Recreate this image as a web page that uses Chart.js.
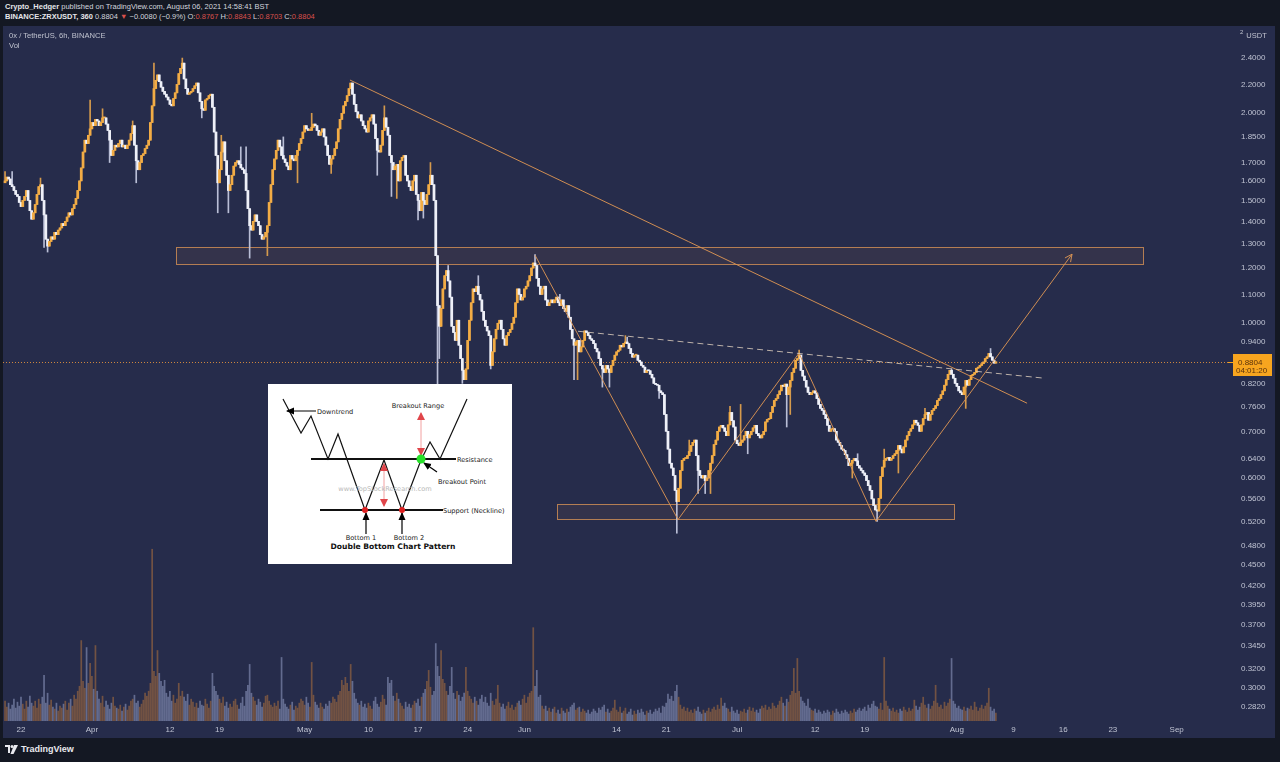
<!DOCTYPE html>
<html><head><meta charset="utf-8">
<script src="https://cdn.jsdelivr.net/npm/chart.js@4.4.0/dist/chart.umd.min.js"></script>
<style>
html,body{margin:0;padding:0;width:1280px;height:762px;background:#141823;overflow:hidden;font-family:"Liberation Sans",Arial,sans-serif;}
#hdr{position:absolute;left:5px;top:2px;color:#d3d6de;font-size:7.5px;line-height:10px;white-space:nowrap;}
#hdr b{font-weight:bold;color:#e4e6ea;}
#hdr .r{color:#d9504c;}
#pane{position:absolute;left:3px;top:26px;width:1272px;height:712px;background:#262c4b;}
#c{position:absolute;left:0;top:0;}
#leg{position:absolute;left:9px;top:31px;color:#c0c3cf;font-size:7.6px;line-height:10px;}
#unit{position:absolute;left:1240px;top:29px;color:#c0c3cf;font-size:7.5px;}
#unit sup{font-size:6px;margin-right:3px;}
#inset{position:absolute;left:268px;top:384px;width:244px;height:180px;}
#foot{position:absolute;left:5px;top:744px;color:#e8e9ee;font-size:9px;font-weight:bold;display:flex;align-items:center;gap:3px;}
</style></head>
<body>
<div id="hdr">
<div><b>Crypto_Hedger</b> published on TradingView.com, August 06, 2021 14:58:41 BST</div>
<div><b>BINANCE:ZRXUSDT, 360</b> 0.8804 <span class="r">▼</span> −0.0080 (−0.9%) O:<span class="r">0.8767</span> H:<span class="r">0.8843</span> L:<span class="r">0.8703</span> C:<span class="r">0.8804</span></div>
</div>
<div id="pane"><canvas id="c" width="1272" height="712" style="width:1272px;height:712px"></canvas></div>
<div id="leg">0x / TetherUS, 6h, BINANCE<br>Vol</div>
<div id="unit"><sup>2</sup>USDT</div>
<svg id="inset" width="244" height="180" viewBox="0 0 244 180">
<defs>
<marker id="ab" markerWidth="8" markerHeight="8" refX="7" refY="4" orient="auto" markerUnits="userSpaceOnUse"><path d="M0,0.5 L8,4 L0,7.5 z" fill="#000"/></marker>
<marker id="ar" markerWidth="8" markerHeight="10" refX="7" refY="4" orient="auto-start-reverse" markerUnits="userSpaceOnUse"><path d="M0,0 L8,4 L0,8 z" fill="#e0454a"/></marker>
</defs>
<rect x="0" y="0" width="244" height="180" fill="#ffffff"/>
<polyline points="15,15 33,49 43,32 60,75 70,50 97,126 116,76 134,126 153,76 162,58 172,75 199,15" fill="none" stroke="#111" stroke-width="1.2"/>
<line x1="43" y1="75" x2="188" y2="75" stroke="#111" stroke-width="1.8"/>
<line x1="52" y1="126" x2="175" y2="126" stroke="#111" stroke-width="1.8"/>
<line x1="48" y1="27" x2="19" y2="27" stroke="#000" stroke-width="1" marker-end="url(#ab)"/>
<line x1="153" y1="29" x2="153" y2="71" stroke="#f2a0a0" stroke-width="1" marker-start="url(#ar)" marker-end="url(#ar)"/>
<line x1="116" y1="80" x2="116" y2="122" stroke="#f2a0a0" stroke-width="1" marker-start="url(#ar)" marker-end="url(#ar)"/>
<line x1="169" y1="88" x2="156" y2="79" stroke="#000" stroke-width="1.2" marker-end="url(#ab)"/>
<line x1="98" y1="150" x2="98" y2="129" stroke="#000" stroke-width="1.2" marker-end="url(#ab)"/>
<line x1="134" y1="150" x2="134" y2="129" stroke="#000" stroke-width="1.2" marker-end="url(#ab)"/>
<circle cx="153" cy="75" r="4.5" fill="#27e02a"/>
<circle cx="97" cy="126" r="3" fill="#dd2020"/>
<circle cx="134" cy="126" r="3" fill="#dd2020"/>
<g font-family="DejaVu Sans, Verdana, sans-serif" font-size="6.6" fill="#222">
<text x="49" y="29.5">Downtrend</text>
<text x="150" y="23.5" text-anchor="middle">Breakout Range</text>
<text x="189" y="77.5">Resistance</text>
<text x="170" y="99.5">Breakout Point</text>
<text x="117" y="106.5" text-anchor="middle" fill="#b8b8b8">www.TopStockResearch.com</text>
<text x="175" y="128.5">Support (Neckline)</text>
<text x="93" y="155.5" text-anchor="middle">Bottom 1</text>
<text x="141" y="155.5" text-anchor="middle">Bottom 2</text>
<text x="125" y="165" text-anchor="middle" font-weight="bold" font-size="7.6" fill="#111">Double Bottom Chart Pattern</text>
</g>
</svg>
<div id="foot"><svg width="13" height="9" viewBox="0 0 13 9"><path d="M0,0 H5 V8 H3 V2 H0 Z" fill="#e8e9ee"/><circle cx="7" cy="1.5" r="1.5" fill="#e8e9ee"/><path d="M9,0 H13 L8.5,9 H5.5 Z" fill="#e8e9ee"/></svg><span>TradingView</span></div>
<script>
// ---- time axis: days since 22 Mar 2021, 6h candles ----
const startDay = -2.25;
const stepDays = 0.25;
const xMinDay = -2.5388;
const xMaxDay = 170.24;
const xTickDays = [0,10,21,28,40,49,56,63,71,84,91,101,112,119,132,140,147,154,163];
const xTickLabels = ['22','Apr','12','19','May','10','17','24','Jun','14','21','Jul','12','19','Aug','9','16','23','Sep'];

// ---- price axis (USDT, log) ----
const priceMin = 0.269;
const priceMax = 2.668;
const priceTicks = [2.4,2.2,2.0,1.85,1.7,1.6,1.5,1.4,1.3,1.2,1.1,1.0,0.94,0.82,0.76,0.70,0.64,0.60,0.56,0.52,0.48,0.45,0.42,0.395,0.37,0.345,0.32,0.30,0.282];

// ---- 6h closes ----
const firstOpen = 1.59;
const closes = [
1.60,1.62,1.61,1.58, 1.57,1.55,1.53,1.52, 1.49,1.47,1.50,1.52, 1.55,1.50,1.45,1.41, 1.44,1.48,1.53,1.57,
1.58,1.50,1.43,1.32, 1.29,1.31,1.33,1.32, 1.35,1.34,1.36,1.37, 1.39,1.38,1.40,1.42, 1.44,1.43,1.46,1.48,
1.51,1.55,1.60,1.67, 1.76,1.83,1.81,1.86, 1.90,1.94,1.92,1.96, 1.95,1.92,1.94,1.97, 1.97,1.93,1.89,1.83,
1.74,1.77,1.80,1.79, 1.81,1.83,1.79,1.80, 1.78,1.80,1.83,1.87, 1.92,1.80,1.71,1.66, 1.70,1.74,1.75,1.78,
1.80,1.83,1.94,2.05, 2.17,2.23,2.27,2.22, 2.18,2.15,2.13,2.11, 2.09,2.06,2.05,2.10, 2.14,2.20,2.28,2.32,
2.36,2.24,2.17,2.13, 2.14,2.15,2.17,2.19, 2.21,2.14,2.08,2.03, 2.02,2.09,2.10,2.12, 2.13,2.04,1.88,1.74,
1.59,1.66,1.76,1.82, 1.71,1.63,1.55,1.58, 1.63,1.68,1.70,1.71, 1.69,1.67,1.66,1.64, 1.55,1.46,1.38,1.36,
1.40,1.43,1.40,1.38, 1.34,1.32,1.33,1.35, 1.38,1.49,1.58,1.66, 1.72,1.77,1.83,1.79, 1.74,1.72,1.70,1.68,
1.66,1.74,1.72,1.71, 1.74,1.77,1.81,1.84, 1.88,1.92,1.90,1.89, 1.89,1.91,1.93,1.92, 1.89,1.86,1.88,1.90,
1.85,1.80,1.74,1.69, 1.72,1.74,1.78,1.82, 1.90,1.96,2.00,2.05, 2.08,2.12,2.17,2.21, 2.13,2.06,2.01,1.97,
1.99,1.95,1.92,1.90, 1.88,1.95,1.97,1.99, 1.93,1.84,1.77,1.76, 1.80,1.89,1.97,1.91, 1.86,1.74,1.70,1.66,
1.68,1.69,1.60,1.71, 1.73,1.74,1.63,1.60, 1.57,1.55,1.60,1.63, 1.53,1.50,1.45,1.54, 1.50,1.48,1.53,1.58,
1.63,1.58,1.50,1.25, 1.06,0.99,1.05,1.12, 1.17,1.19,1.15,1.09, 0.99,0.97,0.945,1.01, 0.93,0.89,0.856,0.83,
0.86,0.945,1.01,1.07, 1.12,1.11,1.13,1.10, 1.08,1.04,1.01,0.99, 0.975,0.96,0.87,0.91, 0.95,0.98,1.00,1.01,
0.98,0.95,0.93,0.96, 0.97,0.98,1.00,1.02, 1.07,1.12,1.10,1.08, 1.09,1.12,1.13,1.15, 1.17,1.20,1.22,1.21,
1.16,1.13,1.10,1.12, 1.13,1.08,1.06,1.07, 1.08,1.07,1.08,1.09, 1.07,1.06,1.08,1.05, 1.04,1.06,1.02,0.98,
0.95,0.93,0.94,0.945, 0.91,0.925,0.945,0.975, 0.97,0.96,0.95,0.945, 0.935,0.92,0.91,0.89, 0.87,0.86,0.85,0.87,
0.86,0.85,0.87,0.885, 0.90,0.91,0.915,0.93, 0.925,0.936,0.94,0.935, 0.92,0.905,0.894,0.90, 0.90,0.885,0.88,0.87,
0.865,0.85,0.856,0.855, 0.845,0.835,0.82,0.817, 0.815,0.80,0.795,0.79, 0.74,0.70,0.66,0.63, 0.62,0.605,0.576,0.555,
0.58,0.615,0.636,0.64, 0.64,0.646,0.655,0.668, 0.675,0.68,0.646,0.615, 0.605,0.60,0.605,0.595, 0.60,0.615,0.63,0.646,
0.67,0.68,0.70,0.71, 0.714,0.708,0.70,0.69, 0.715,0.745,0.725,0.71, 0.68,0.672,0.668,0.675, 0.68,0.69,0.70,0.685,
0.692,0.70,0.708,0.714, 0.695,0.69,0.685,0.692, 0.70,0.722,0.728,0.73, 0.745,0.76,0.775,0.78, 0.79,0.80,0.815,0.812,
0.818,0.79,0.81,0.828, 0.85,0.862,0.885,0.89, 0.90,0.856,0.84,0.828, 0.81,0.796,0.79,0.795, 0.80,0.794,0.78,0.765,
0.755,0.75,0.74,0.73, 0.714,0.70,0.705,0.706, 0.70,0.68,0.675,0.668, 0.66,0.657,0.648,0.64, 0.625,0.63,0.636,0.64,
0.635,0.625,0.62,0.615, 0.61,0.605,0.595,0.585, 0.576,0.56,0.548,0.54, 0.538,0.561,0.603,0.622, 0.636,0.64,0.642,0.636,
0.64,0.646,0.65,0.657, 0.668,0.66,0.652,0.665, 0.68,0.69,0.70,0.706, 0.715,0.726,0.72,0.714, 0.70,0.715,0.73,0.74,
0.745,0.726,0.74,0.75, 0.755,0.762,0.775,0.78, 0.79,0.80,0.815,0.83, 0.845,0.856,0.845,0.834, 0.82,0.812,0.80,0.795,
0.79,0.81,0.828,0.815, 0.83,0.842,0.845,0.85, 0.862,0.865,0.87,0.875, 0.88,0.89,0.895,0.905, 0.895,0.885,0.8767,0.8804
];
// visible wicks [candle index, price]
const wickHighs = [[0,1.65],[4,1.65],[20,1.615],[48,2.09],[55,2.03],[72,1.95],[84,2.36],[100,2.40],[122,1.86],[133,1.79],[136,1.79],[157,1.85],[173,2.00],[214,2.05],[240,1.70],
  [250,1.21],[267,1.17],[299,1.255],[313,1.10],[350,0.96],[351,0.955],[386,0.68],[409,0.76],[415,0.765],[448,0.915],[481,0.65],[496,0.66],[519,0.755],[528,0.78],[534,0.86],[556,0.92]];
const wickLows = [[22,1.285],[24,1.265],[59,1.70],[74,1.59],[111,1.97],[120,1.44],[126,1.44],[138,1.24],[148,1.25],[165,1.59],[184,1.64],[210,1.63],[218,1.52],[221,1.51],[233,1.406],[236,1.415],
  [244,0.79],[245,0.89],[258,0.82],[274,0.86],[321,0.83],[323,0.83],[337,0.81],[341,0.81],[369,0.78],[379,0.50],[391,0.57],[395,0.57],[398,0.57],[419,0.65],[441,0.71],[443,0.74],[478,0.60],[492,0.52],[504,0.61],[542,0.755]];

// ---- volume (x10K ZRX) ----
const volumes = [
20,14,18,12, 16,22,13,19, 15,24,17,12, 20,14,25,18, 15,20,13,22,
17,24,46,18, 28,16,21,14, 12,18,10,15, 13,17,20,11, 18,22,15,26,
22,30,35,81, 40,33,74,38, 58,45,32,76, 30,22,18,25, 14,20,16,12,
18,24,15,13, 12,16,10,14, 17,11,15,20, 22,26,18,20, 14,17,21,28,
25,30,38,173, 50,45,71,48, 40,35,41,28, 24,30,20,26, 18,22,38,25,
30,24,20,27, 16,22,19,14, 18,13,20,16, 15,22,17,13, 20,48,35,30,
26,22,18,24, 15,19,13,17, 14,20,22,16, 12,18,24,15, 30,36,57,28,
24,20,16,22, 19,14,18,25, 26,20,16,14, 18,15,20,12, 64,22,17,14,
12,16,19,11, 15,13,18,22, 20,16,24,18, 14,59,26,19, 16,13,18,14,
12,17,15,20, 18,24,22,19, 26,30,41,36, 44,38,30,57, 40,28,22,18,
16,20,14,17, 13,18,15,12, 20,24,17,14, 19,26,22,16, 44,38,41,25,
20,28,22,18, 15,12,19,14, 17,13,16,20, 18,22,15,24, 28,32,40,51,
34,26,30,78, 55,45,71,42, 38,30,26,35, 54,28,22,30, 26,20,24,28,
54,30,25,22, 18,24,20,16, 22,26,19,24, 18,15,28,20, 16,22,36,18,
14,17,12,15, 19,13,16,11, 14,18,20,16, 22,26,18,24, 28,30,94,35,
51,24,26,15, 12,15,10,13, 9,12,14,8, 11,7,13,10, 8,12,9,14,
16,18,11,13, 14,9,12,10, 8,11,7,9, 12,10,8,13, 11,14,16,9,
12,8,10,13, 21,11,9,14, 8,10,13,7, 9,12,6,10, 7,11,8,12,
9,6,10,8, 11,7,9,12, 10,13,8,15, 14,18,27,22, 25,20,30,36,
24,16,12,14, 10,13,9,11, 8,12,10,14, 9,7,11,8, 10,13,9,12,
14,11,16,12, 23,15,18,13, 12,9,14,10, 8,11,7,10, 9,12,8,11,
14,10,13,9, 11,8,12,15, 13,16,11,14, 12,18,15,13, 16,20,24,18,
15,22,19,26, 30,53,28,63, 30,24,20,18, 15,22,13,11, 10,12,8,11,
9,7,10,8, 11,9,6,10, 8,12,9,7, 10,8,11,9, 7,10,8,12,
9,11,13,10, 12,14,10,16, 13,17,20,15, 14,12,18,11, 64,20,15,12,
10,13,9,11, 8,12,10,14, 11,9,13,10, 12,21,15,11, 14,18,24,16,
13,17,12,15, 20,36,18,14, 16,12,19,15, 18,22,63,20, 17,13,15,12,
11,14,10,13, 12,15,11,19, 14,10,13,16, 12,15,18,33, 14,10,12,8
];
const volumeAxisMax = 700;

// ---- drawings (day, price) ----
const zones = [
  {from:21.86, to:158.25, lo:1.215, hi:1.285},
  {from:75.6, to:131.6, lo:0.523, hi:0.550}
];
const trendLine = [[46.4,2.232],[141.9,0.768]];
const dashedLine = [[78.56,0.974],[144.4,0.834]];
const patternPath = [[72.5,1.252],[92.67,0.523],[109.73,0.906],[120.59,0.520],[148.24,1.256]];
const countdownText = '04:01:20';

// ---- derived candle parts ----
const n = closes.length;
const xs = closes.map((c,i)=> startDay + i*stepDays);
const opens = closes.map((c,i)=> i===0 ? firstOpen : closes[i-1]);
const highs = closes.map((c,i)=> Math.max(c, opens[i]));
const lows = closes.map((c,i)=> Math.min(c, opens[i]));
wickHighs.forEach(([i,v])=>{ highs[i] = Math.max(highs[i], v); });
wickLows.forEach(([i,v])=>{ lows[i] = Math.min(lows[i], v); });
const isUp = closes.map((c,i)=> c >= opens[i]);

const UP_BODY = '#f2ac45', DN_BODY = '#eef0f8';
const UP_WICK = '#d59a4c', DN_WICK = '#b9bed6';
const UP_VOL = 'rgba(165,108,62,0.6)', DN_VOL = 'rgba(150,160,200,0.55)';
const LINE = 'rgba(221,150,84,0.92)';

const drawPlugin = {
  id: 'drawings',
  beforeDatasetsDraw(chart){
    const {ctx, chartArea:a, scales:{x, y}} = chart;
    ctx.save();
    ctx.beginPath(); ctx.rect(a.left, a.top, a.right-a.left, a.bottom-a.top); ctx.clip();
    zones.forEach(z=>{
      const x0 = x.getPixelForValue(z.from), x1 = x.getPixelForValue(z.to);
      const y0 = y.getPixelForValue(z.hi), y1 = y.getPixelForValue(z.lo);
      ctx.fillStyle = 'rgba(130,92,80,0.16)';
      ctx.fillRect(x0, y0, x1-x0, y1-y0);
      ctx.strokeStyle = 'rgba(205,140,85,0.85)'; ctx.lineWidth = 1;
      ctx.strokeRect(Math.round(x0)+0.5, Math.round(y0)+0.5, Math.round(x1-x0), Math.round(y1-y0));
    });
    const py = Math.round(y.getPixelForValue(closes[n-1])) + 0.5;
    ctx.strokeStyle = 'rgba(235,150,60,0.85)'; ctx.lineWidth = 1; ctx.setLineDash([1,2]);
    ctx.beginPath(); ctx.moveTo(a.left, py); ctx.lineTo(a.right, py); ctx.stroke();
    ctx.restore();
  },
  afterDatasetsDraw(chart){
    const {ctx, chartArea:a, scales:{x, y}} = chart;
    const P = ([d,p]) => [x.getPixelForValue(d), y.getPixelForValue(p)];
    ctx.save();
    ctx.beginPath(); ctx.rect(a.left, a.top, a.right-a.left, a.bottom-a.top); ctx.clip();
    ctx.lineWidth = 1; ctx.strokeStyle = LINE;
    let [ax, ay] = P(trendLine[0]), [bx, by] = P(trendLine[1]);
    ctx.beginPath(); ctx.moveTo(ax, ay); ctx.lineTo(bx, by); ctx.stroke();
    ctx.beginPath();
    patternPath.forEach((pt,i)=>{ const [px,py] = P(pt); if(i===0) ctx.moveTo(px,py); else ctx.lineTo(px,py); });
    ctx.stroke();
    const [p1x,p1y] = P(patternPath[patternPath.length-2]);
    const [p2x,p2y] = P(patternPath[patternPath.length-1]);
    const ang = Math.atan2(p2y-p1y, p2x-p1x);
    ctx.beginPath();
    ctx.moveTo(p2x - 8*Math.cos(ang-0.45), p2y - 8*Math.sin(ang-0.45));
    ctx.lineTo(p2x, p2y);
    ctx.lineTo(p2x - 8*Math.cos(ang+0.45), p2y - 8*Math.sin(ang+0.45));
    ctx.stroke();
    [ax, ay] = P(dashedLine[0]); [bx, by] = P(dashedLine[1]);
    ctx.strokeStyle = 'rgba(214,200,185,0.85)'; ctx.setLineDash([6,4]);
    ctx.beginPath(); ctx.moveTo(ax, ay); ctx.lineTo(bx, by); ctx.stroke();
    ctx.restore();
  },
  afterDraw(chart){
    const {ctx, scales:{y}} = chart;
    const last = closes[n-1];
    const yy = Math.round(y.getPixelForValue(last));
    ctx.save();
    ctx.fillStyle = '#f7a51f';
    ctx.fillRect(y.left+5, yy-8, 39, 22);
    ctx.fillRect(y.left, yy, 5, 1);
    ctx.fillStyle = '#5a320c';
    ctx.font = '8px "Liberation Sans", Arial, sans-serif';
    ctx.textBaseline = 'middle';
    ctx.fillText(last.toFixed(4), y.left+10, yy+0.5);
    ctx.fillText(countdownText, y.left+8, yy+8.5);
    ctx.restore();
  }
};

const TICK_COLOR = '#bfc3d2';
new Chart(document.getElementById('c'), {
  type: 'bar',
  data: {
    datasets: [
      { label:'Body', data: xs.map((d,i)=>({x:d, y:[opens[i], closes[i]]})),
        backgroundColor: isUp.map(u=>u?UP_BODY:DN_BODY), barThickness: 2.1, minBarLength: 1,
        grouped:false, order:1, yAxisID:'y' },
      { label:'Wick', data: xs.map((d,i)=>({x:d, y:[lows[i], highs[i]]})),
        backgroundColor: isUp.map(u=>u?UP_WICK:DN_WICK), barThickness: 1,
        grouped:false, order:2, yAxisID:'y' },
      { label:'Vol', data: xs.map((d,i)=>({x:d, y:volumes[i]})),
        backgroundColor: isUp.map(u=>u?UP_VOL:DN_VOL), barThickness: 1.05,
        grouped:false, order:3, yAxisID:'yv' }
    ]
  },
  options: {
    responsive:false, maintainAspectRatio:false, animation:false, events:[],
    layout:{padding:0},
    plugins:{legend:{display:false}, tooltip:{enabled:false}},
    scales:{
      x:{ type:'linear', min:xMinDay, max:xMaxDay, offset:false, bounds:'data',
          grid:{display:false, drawTicks:false, tickLength:0}, border:{display:false},
          afterBuildTicks:(s)=>{ s.ticks = xTickDays.map(v=>({value:v})); },
          afterFit:(s)=>{ s.height = 17; s.paddingLeft = 0; s.paddingRight = 0; },
          ticks:{ autoSkip:false, maxRotation:0, padding:4, color:TICK_COLOR,
                  font:{family:'"Liberation Sans", Arial, sans-serif', size:8},
                  callback:(v)=>{ const k = xTickDays.indexOf(v); return k>=0 ? xTickLabels[k] : ''; } } },
      y:{ type:'logarithmic', position:'right', min:priceMin, max:priceMax, bounds:'data',
          grid:{display:false, drawTicks:false}, border:{display:false},
          afterBuildTicks:(s)=>{ s.ticks = priceTicks.map(v=>({value:v})); },
          afterFit:(s)=>{ s.width = 47; s.paddingTop = 0; s.paddingBottom = 0; },
          ticks:{ autoSkip:false, padding:13, color:TICK_COLOR,
                  font:{family:'"Liberation Sans", Arial, sans-serif', size:8},
                  callback:(v)=> Number(v).toFixed(4) } },
      yv:{ type:'linear', display:false, min:0, max:volumeAxisMax }
    }
  },
  plugins:[drawPlugin]
});
</script>
</body></html>
